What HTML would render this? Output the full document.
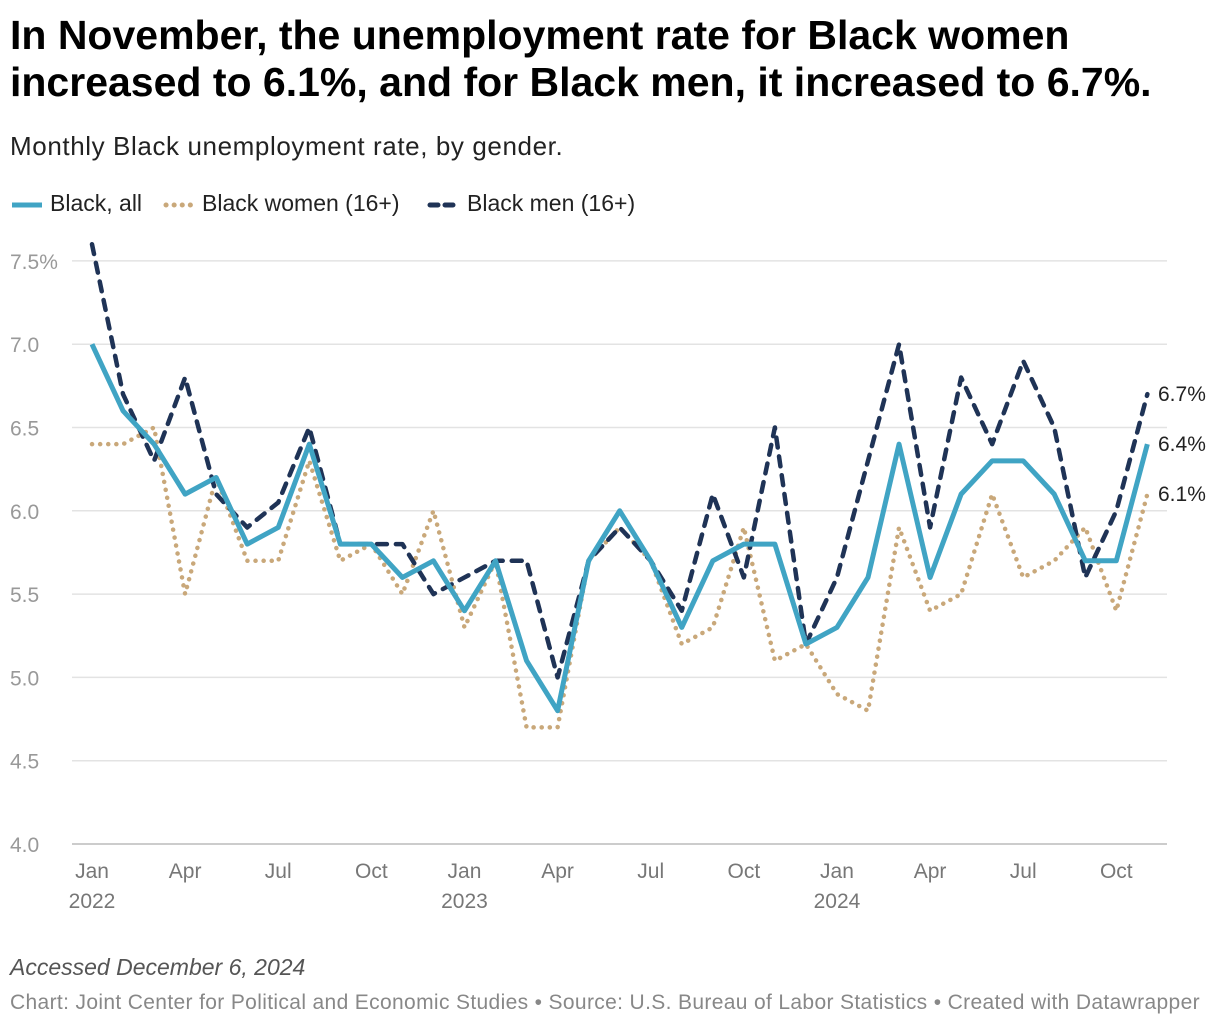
<!DOCTYPE html>
<html><head><meta charset="utf-8"><style>
body{margin:0;background:#fff;font-family:"Liberation Sans",sans-serif;width:1220px;height:1028px;overflow:hidden;position:relative}
.t{position:absolute;left:10px;top:12px;font-size:41px;font-weight:bold;line-height:47px;color:#000;letter-spacing:0px}
.s{position:absolute;left:10px;top:131px;font-size:26px;color:#222;letter-spacing:0.6px}
.lg{position:absolute;top:190px;font-size:23px;color:#222}
.f1{position:absolute;left:10px;top:954px;font-size:23px;font-style:italic;color:#555}
.f2{position:absolute;left:10px;top:991px;font-size:21px;color:#888;letter-spacing:0.35px}
</style></head><body>
<div class="t">In November, the unemployment rate for Black women<br>increased to 6.1%, and for Black men, it increased to 6.7%.</div>
<div class="s">Monthly Black unemployment rate, by gender.</div>
<svg style="position:absolute;left:0;top:0" width="1220" height="230">
<line x1="12" y1="205" x2="42" y2="205" stroke="#40a4c4" stroke-width="5"/>
<line x1="166" y1="205" x2="194" y2="205" stroke="#c9a87a" stroke-width="5" stroke-dasharray="0.1 8" stroke-linecap="round"/>
<line x1="430" y1="205" x2="460" y2="205" stroke="#1f3356" stroke-width="5" stroke-dasharray="8 7" stroke-linecap="round"/>
</svg>
<div class="lg" style="left:50px">Black, all</div>
<div class="lg" style="left:202px">Black women (16+)</div>
<div class="lg" style="left:467px">Black men (16+)</div>
<svg id="c" style="position:absolute;left:0;top:0" width="1220" height="940"></svg>
<div class="f1">Accessed December 6, 2024</div>
<div class="f2">Chart: Joint Center for Political and Economic Studies • Source: U.S. Bureau of Labor Statistics • Created with Datawrapper</div>
<script>
const allRate=[7.0,6.6,6.4,6.1,6.2,5.8,5.9,6.4,5.8,5.8,5.6,5.7,5.4,5.7,5.1,4.8,5.7,6.0,5.7,5.3,5.7,5.8,5.8,5.2,5.3,5.6,6.4,5.6,6.1,6.3,6.3,6.1,5.7,5.7,6.4];
const womenRate=[6.4,6.4,6.5,5.5,6.2,5.7,5.7,6.3,5.7,5.8,5.5,6.0,5.3,5.7,4.7,4.7,5.7,5.9,5.7,5.2,5.3,5.9,5.1,5.2,4.9,4.8,5.9,5.4,5.5,6.1,5.6,5.7,5.9,5.4,6.1];
const menRate=[7.6,6.7,6.3,6.8,6.1,5.9,6.05,6.5,5.8,5.8,5.8,5.5,5.6,5.7,5.7,5.0,5.7,5.9,5.7,5.4,6.1,5.6,6.5,5.2,5.6,6.3,7.0,5.9,6.8,6.4,6.9,6.5,5.6,6.0,6.7];
const yTicks=[4.0,4.5,5.0,5.5,6.0,6.5,7.0,7.5];
const xTickLabels=[["Jan","2022"],["Apr",""],["Jul",""],["Oct",""],["Jan","2023"],["Apr",""],["Jul",""],["Oct",""],["Jan","2024"],["Apr",""],["Jul",""],["Oct",""]];
const NS="http://www.w3.org/2000/svg",svg=document.getElementById('c');
const x=i=>92+i*31.04, y=v=>844-(v-4)*166.6;
function mk(t,a){const e=document.createElementNS(NS,t);for(const k in a)e.setAttribute(k,a[k]);svg.appendChild(e);return e;}
yTicks.forEach((v,i)=>{
 const l=mk('line',{x1:72,x2:1167,y1:y(v),y2:y(v),stroke:i==0?'#bbb':'#e3e3e3','stroke-width':1.5});
 
 
 const t=mk('text',{x:10,y:y(v)+8,'font-size':21,fill:'#999'});
 t.textContent=i==yTicks.length-1?v.toFixed(1)+'%':v.toFixed(1);
 
 
});
xTickLabels.forEach((lb,i)=>{
 const t=mk('text',{x:x(i*3),y:878,'font-size':21,fill:'#777','text-anchor':'middle'});
 t.textContent=lb[0];
 
 
 if(lb[1]){const t2=mk('text',{x:x(i*3),y:908,'font-size':21,fill:'#777','text-anchor':'middle'});t2.textContent=lb[1];
 
 }
});
function line(d,st,name){
 const p=mk('polyline',Object.assign({points:d.map((v,i)=>x(i)+','+y(v)).join(' '),fill:'none','stroke-linejoin':'round'},st));
 
 
}
line(womenRate,{stroke:'#c9a87a','stroke-width':4.5,'stroke-dasharray':'0.1 8','stroke-linecap':'round'},'line-black-women');
line(menRate,{stroke:'#1f3356','stroke-width':4.5,'stroke-dasharray':'10 9','stroke-linecap':'round'},'line-black-men');
line(allRate,{stroke:'#40a4c4','stroke-width':5},'line-black-all');
[[menRate,'label-men'],[allRate,'label-all'],[womenRate,'label-women']].forEach(([d,n])=>{
 const v=d[d.length-1];
 const t=mk('text',{x:1158,y:y(v)+7,'font-size':21,fill:'#222'});
 t.textContent=v.toFixed(1)+'%';
 
 
});
</script>
</body></html>
